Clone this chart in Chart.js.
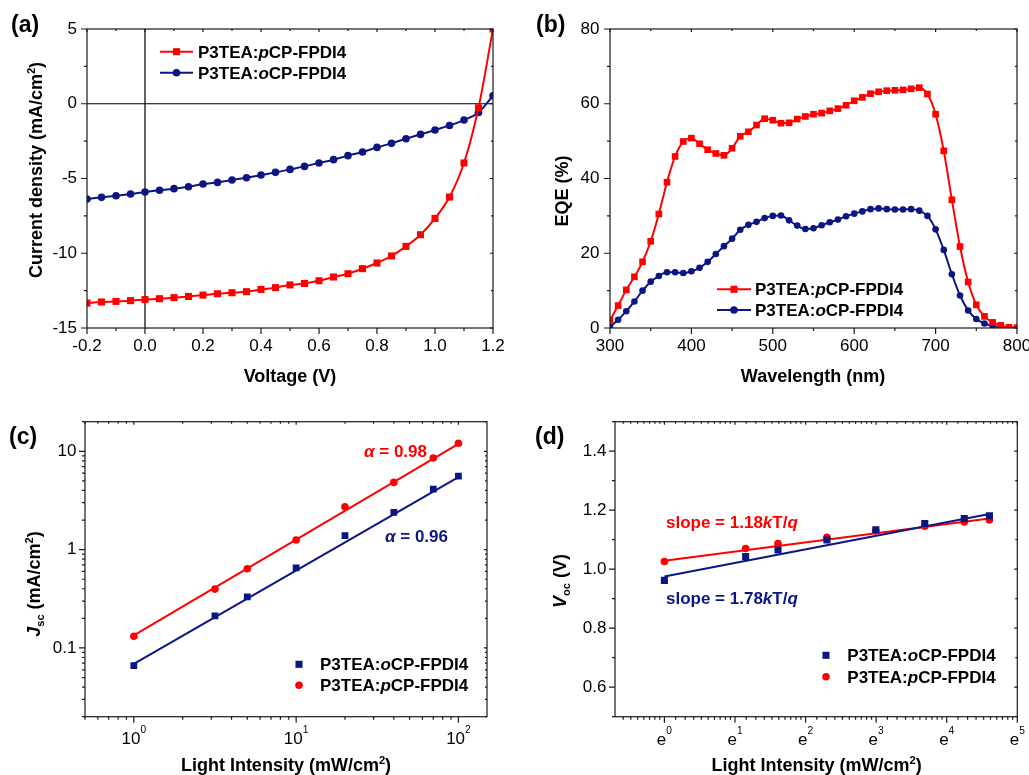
<!DOCTYPE html>
<html>
<head>
<meta charset="utf-8">
<script src="https://cdn.jsdelivr.net/npm/chart.js@4.4.1/dist/chart.umd.min.js"></script>
<style>
  body { margin: 0; background: #fff; width: 1029px; height: 775px; position: relative; overflow: hidden; }
  canvas { position: absolute; }
</style>
</head>
<body>
<canvas id="pa" width="510" height="390" style="left:0;top:0"></canvas>
<canvas id="pb" width="519" height="390" style="left:510px;top:0"></canvas>
<canvas id="pc" width="510" height="385" style="left:0;top:390px"></canvas>
<canvas id="pd" width="519" height="385" style="left:510px;top:390px"></canvas>
<script>
// (a) J-V curves
const ivVoltage = [-0.2, -0.15, -0.1, -0.05, 0, 0.05, 0.1, 0.15, 0.2, 0.25, 0.3, 0.35, 0.4, 0.45, 0.5, 0.55, 0.6, 0.65, 0.7, 0.75, 0.8, 0.85, 0.9, 0.95, 1.0, 1.05, 1.1, 1.15, 1.2];
const ivJpCP = [-13.33, -13.26, -13.22, -13.17, -13.10, -13.04, -12.97, -12.89, -12.80, -12.71, -12.64, -12.57, -12.42, -12.30, -12.12, -12.02, -11.84, -11.59, -11.37, -11.03, -10.65, -10.18, -9.54, -8.76, -7.67, -6.24, -3.96, -0.27, 5.0];
const ivJoCP = [-6.37, -6.26, -6.15, -6.04, -5.90, -5.79, -5.68, -5.55, -5.37, -5.26, -5.10, -4.95, -4.77, -4.59, -4.39, -4.19, -3.96, -3.74, -3.47, -3.23, -2.92, -2.65, -2.34, -2.05, -1.76, -1.45, -1.09, -0.58, 0.54];
const ivXTicks = [-0.2, 0, 0.2, 0.4, 0.6, 0.8, 1.0, 1.2];
const ivYTicks = [-15, -10, -5, 0, 5];

// (b) EQE spectra
const wavelength = [300, 310, 320, 330, 340, 350, 360, 370, 380, 390, 400, 410, 420, 430, 440, 450, 460, 470, 480, 490, 500, 510, 520, 530, 540, 550, 560, 570, 580, 590, 600, 610, 620, 630, 640, 650, 660, 670, 680, 690, 700, 710, 720, 730, 740, 750, 760, 770, 780, 790, 800];
const eqePCP = [2.05, 6.0, 10.2, 13.7, 17.7, 23.2, 30.5, 39.0, 45.9, 49.9,
  50.8, 49.3, 47.7, 46.7, 46.2, 48.1, 51.3, 52.5, 54.3, 56.0,
  55.6, 54.8, 54.9, 55.9, 56.6, 57.2, 57.5, 58.1, 58.7, 59.6,
  60.8, 61.7, 62.7, 63.2, 63.5, 63.6, 63.7, 64.0, 64.3, 62.6,
  57.2, 47.4, 34.3, 21.8, 12.3, 6.2, 3.1, 1.5, 0.7, 0.2, 0.1];
const eqeOCP = [0.3, 2.2, 4.5, 7.1, 10.0, 12.4, 13.9, 14.9, 14.9, 14.7,
  15.2, 16.1, 17.7, 19.8, 21.9, 23.9, 26.3, 27.6, 28.4, 29.4,
  30.0, 30.1, 28.8, 27.4, 26.5, 26.7, 27.5, 28.3, 29.0, 29.9,
  30.6, 31.2, 31.8, 32.0, 31.8, 31.7, 31.7, 31.8, 31.4, 30.0,
  26.4, 20.9, 14.4, 8.7, 4.7, 2.4, 1.2, 0.6, 0.2, 0.1, 0.0];
const eqeXTicks = [300, 400, 500, 600, 700, 800];
const eqeYTicks = [0, 20, 40, 60, 80];

// (c) Jsc vs light intensity, (d) Voc vs light intensity
const intensity = [1, 3.16, 5, 10, 20, 40, 70, 100];
const jscPCP = [0.1315, 0.397, 0.64, 1.254, 2.72, 4.83, 8.55, 12.07];
const jscOCP = [0.066, 0.212, 0.331, 0.654, 1.39, 2.39, 4.13, 5.6];
const fitX = [1, 100];
const jscFitPCP = [0.134, 11.9];
const jscFitOCP = [0.069, 5.47];
const jscXTicks = [1, 10, 100];
const jscXExp = ['0', '1', '2'];
const jscYTicks = [0.1, 1, 10];
const jscYLabels = ['0.1', '1', '10'];

const vocOCP = [0.962, 1.043, 1.065, 1.099, 1.134, 1.155, 1.172, 1.181];
const vocPCP = [1.026, 1.070, 1.087, 1.108, 1.130, 1.146, 1.160, 1.167];
const vocFitOCP = [0.975, 1.187];
const vocFitPCP = [1.029, 1.172];
const vocXExp = [0, 1, 2, 3, 4, 5];
const vocYTicks = [0.6, 0.8, 1.0, 1.2, 1.4];

const FAM = '"Liberation Sans", Arial, Helvetica, sans-serif';
const RED = '#ff0000';
const NAVY = '#0b1583';
const TICK_FONT = { family: FAM, size: 17 };

const pText = [['P3TEA:', ''], ['p', 'i'], ['CP-FPDI4', '']];
const oText = [['P3TEA:', ''], ['o', 'i'], ['CP-FPDI4', '']];

function pts(xs, ys) { return xs.map((x, i) => ({ x: x, y: ys[i] })); }

function linMinor(min, max, step) {
  const out = [];
  for (let v = min; v <= max + 1e-9; v += step) out.push(+v.toFixed(6));
  return out;
}
function logMinor(min, max) {
  const out = [];
  for (let e = -3; e <= 3; e++)
    for (let m = 1; m < 10; m++) {
      const v = m * Math.pow(10, e);
      if (v >= min * 0.999 && v <= max * 1.001) out.push(v);
    }
  return out;
}
function lnMinor(min, max) {
  const out = [];
  for (let n = -2; n <= 5; n++) {
    const a = Math.exp(n), b = Math.exp(n + 1);
    for (let k = 0; k < 10; k++) {
      const v = a + k * (b - a) / 10;
      if (v >= min && v <= max) out.push(v);
    }
  }
  return out;
}

// text made of runs: ['text', kind] with kind '' | 'i' | 'sup' | 'sub'
function drawRich(ctx, parts, x, y, size, opt) {
  opt = opt || {};
  const sup = opt.sup || { scale: 0.62, raise: 0.42 };
  let w = 0;
  const items = parts.map(([t, k]) => {
    const small = k === 'sup' || k === 'sub';
    const s = small ? size * sup.scale : size;
    const f = (k === 'i' ? 'italic ' : '') + (opt.bold ? 'bold ' : '') + s + 'px ' + FAM;
    ctx.font = f;
    const wid = ctx.measureText(t).width;
    const dy = k === 'sup' ? -size * sup.raise : (k === 'sub' ? size * 0.22 : 0);
    w += wid;
    return { t, f, wid, dy };
  });
  let cx = opt.align === 'center' ? x - w / 2 : x;
  ctx.fillStyle = opt.color || '#000';
  ctx.textAlign = 'left';
  ctx.textBaseline = 'alphabetic';
  items.forEach(it => { ctx.font = it.f; ctx.fillText(it.t, cx, y + it.dy); cx += it.wid; });
}

function drawRot(ctx, parts, cx, cy, size) {
  ctx.save();
  ctx.translate(cx, cy);
  ctx.rotate(-Math.PI / 2);
  drawRich(ctx, parts, 0, 0.3 * size, size, { bold: true, align: 'center' });
  ctx.restore();
}

function decor(cfg) {
  return {
    id: 'decor',
    beforeDatasetsDraw(chart) {
      if (!cfg.zero) return;
      const { ctx, chartArea: a, scales: { x, y } } = chart;
      const px = x.getPixelForValue(0), py = y.getPixelForValue(0);
      ctx.save();
      ctx.strokeStyle = '#000';
      ctx.lineWidth = 1.2;
      ctx.beginPath();
      ctx.moveTo(a.left, py); ctx.lineTo(a.right, py);
      ctx.moveTo(px, a.top); ctx.lineTo(px, a.bottom);
      ctx.stroke();
      ctx.restore();
    },
    afterDraw(chart) {
      const { ctx, chartArea: a, scales: { x, y } } = chart;
      ctx.save();
      ctx.strokeStyle = '#1a1a1a';
      ctx.lineWidth = 1.2;
      ctx.beginPath();
      const xt = (v, out, inn) => {
        const p = x.getPixelForValue(v);
        ctx.moveTo(p, a.bottom); ctx.lineTo(p, a.bottom + out);
        ctx.moveTo(p, a.top); ctx.lineTo(p, a.top + inn);
      };
      const yt = (v, out, inn) => {
        const p = y.getPixelForValue(v);
        ctx.moveTo(a.left - out, p); ctx.lineTo(a.left, p);
        ctx.moveTo(a.right, p); ctx.lineTo(a.right - inn, p);
      };
      cfg.xMinor.forEach(v => xt(v, 3, 2));
      cfg.xMajor.forEach(v => xt(v, 6, 3));
      cfg.yMinor.forEach(v => yt(v, 3, 2));
      cfg.yMajor.forEach(v => yt(v, 6, 3));
      ctx.stroke();
      ctx.strokeRect(a.left, a.top, a.right - a.left, a.bottom - a.top);

      // power-style tick labels (10^n, e^n)
      if (cfg.pow) {
        cfg.xMajor.forEach((v, i) => {
          drawRich(ctx, [[cfg.pow.base, ''], [cfg.pow.exps[i], 'sup']], x.getPixelForValue(v), cfg.pow.baseline, 17,
            { align: 'center', sup: { scale: 0.6, raise: 0.63 } });
        });
      }

      // axis titles
      drawRich(ctx, cfg.xTitle.parts, cfg.xTitle.x, cfg.xTitle.y + 0.3 * 18, 18, { bold: true, align: 'center' });
      drawRot(ctx, cfg.yTitle.parts, cfg.yTitle.x, cfg.yTitle.y, 18);

      // panel tag
      drawRich(ctx, [[cfg.tag.text, '']], cfg.tag.x, cfg.tag.y + 0.27 * 23, 23, { bold: true });

      // legend
      cfg.legend.forEach(it => {
        if (it.line) {
          ctx.strokeStyle = it.color;
          ctx.lineWidth = 2;
          ctx.beginPath();
          ctx.moveTo(it.line[0], it.y); ctx.lineTo(it.line[1], it.y);
          ctx.stroke();
        }
        ctx.fillStyle = it.color;
        Chart.helpers.drawPoint(ctx, { pointStyle: it.style, radius: it.r, rotation: 0, borderWidth: 0 }, it.mx, it.y);
        drawRich(ctx, it.text, it.tx, it.y + 0.358 * 17, 17, { bold: true });
      });

      // notes
      (cfg.notes || []).forEach(n => {
        drawRich(ctx, n.parts, n.x, n.y + 0.358 * 17, 17, { bold: true, color: n.color });
      });
      ctx.restore();
    }
  };
}

function axis(type, min, max, ticks, size, isX, fmt, labelPad) {
  return {
    type: type,
    min: min,
    max: max,
    position: isX ? 'bottom' : 'left',
    grid: { display: false, drawTicks: false },
    border: { display: false },
    afterBuildTicks(s) { s.ticks = ticks.map(v => ({ value: v })); },
    afterFit(s) {
      if (isX) { s.height = size; s.paddingLeft = 0; s.paddingRight = 0; }
      else { s.width = size; s.paddingTop = 0; s.paddingBottom = 0; }
    },
    ticks: {
      display: !!fmt,
      font: TICK_FONT,
      color: '#000',
      padding: labelPad,
      autoSkip: false,
      maxRotation: 0,
      callback: fmt ? (v, i) => fmt(v, i) : () => ''
    }
  };
}

function baseOptions(padding, scales, cfg) {
  return {
    responsive: false,
    animation: false,
    events: [],
    layout: { padding: padding },
    plugins: { legend: { display: false }, tooltip: { enabled: false } },
    scales: scales
  };
}

// ---- (a)
new Chart(document.getElementById('pa'), {
  type: 'line',
  data: {
    datasets: [
      { data: pts(ivVoltage, ivJpCP), borderColor: RED, backgroundColor: RED, borderWidth: 2,
        pointStyle: 'rect', pointRadius: 5, pointBorderWidth: 0, cubicInterpolationMode: 'monotone' },
      { data: pts(ivVoltage, ivJoCP), borderColor: NAVY, backgroundColor: NAVY, borderWidth: 2,
        pointStyle: 'circle', pointRadius: 3.8, pointBorderWidth: 0, cubicInterpolationMode: 'monotone' }
    ]
  },
  options: baseOptions({ left: 0, right: 17, top: 29, bottom: 0 }, {
    x: axis('linear', -0.2, 1.2, ivXTicks, 62, true, v => v.toFixed(1), 8.5),
    y: axis('linear', -15, 5, ivYTicks, 87, false, v => String(v), 10)
  }),
  plugins: [decor({
    zero: true,
    xMajor: ivXTicks, xMinor: linMinor(-0.2, 1.2, 0.1),
    yMajor: ivYTicks, yMinor: linMinor(-15, 5, 2.5),
    xTitle: { parts: [['Voltage (V)', '']], x: 290, y: 377 },
    yTitle: { parts: [['Current density (mA/cm', ''], ['2', 'sup'], [')', '']], x: 37, y: 170 },
    tag: { text: '(a)', x: 11, y: 26 },
    legend: [
      { color: RED, style: 'rect', r: 5, line: [160, 193], mx: 176.5, y: 51.7, tx: 198, text: pText },
      { color: NAVY, style: 'circle', r: 3.8, line: [160, 193], mx: 176.5, y: 72.7, tx: 198, text: oText }
    ]
  })]
});

// ---- (b)
new Chart(document.getElementById('pb'), {
  type: 'line',
  data: {
    datasets: [
      { data: pts(wavelength, eqePCP), borderColor: RED, backgroundColor: RED, borderWidth: 2,
        pointStyle: 'rect', pointRadius: 4.7, pointBorderWidth: 0, cubicInterpolationMode: 'monotone' },
      { data: pts(wavelength, eqeOCP), borderColor: NAVY, backgroundColor: NAVY, borderWidth: 2,
        pointStyle: 'circle', pointRadius: 3.3, pointBorderWidth: 0, cubicInterpolationMode: 'monotone' }
    ]
  },
  options: baseOptions({ left: 0, right: 12, top: 29, bottom: 0 }, {
    x: axis('linear', 300, 800, eqeXTicks, 62, true, v => String(v), 8.5),
    y: axis('linear', 0, 80, eqeYTicks, 100, false, v => String(v), 10.5)
  }),
  plugins: [decor({
    xMajor: eqeXTicks, xMinor: linMinor(300, 800, 50),
    yMajor: eqeYTicks, yMinor: linMinor(0, 80, 10),
    xTitle: { parts: [['Wavelength (nm)', '']], x: 303, y: 377 },
    yTitle: { parts: [['EQE (%)', '']], x: 53, y: 191 },
    tag: { text: '(b)', x: 26, y: 26 },
    legend: [
      { color: RED, style: 'rect', r: 5, line: [207, 241], mx: 224, y: 289.3, tx: 245, text: pText },
      { color: NAVY, style: 'circle', r: 3.8, line: [207, 241], mx: 224, y: 310, tx: 245, text: oText }
    ]
  })]
});

// ---- (c)
new Chart(document.getElementById('pc'), {
  type: 'line',
  data: {
    datasets: [
      { data: pts(intensity, jscOCP), showLine: false, backgroundColor: NAVY, borderColor: NAVY,
        pointStyle: 'rect', pointRadius: 4.8, pointBorderWidth: 0 },
      { data: pts(intensity, jscPCP), showLine: false, backgroundColor: RED, borderColor: RED,
        pointStyle: 'circle', pointRadius: 3.8, pointBorderWidth: 0 },
      { data: pts(fitX, jscFitOCP), borderColor: NAVY, borderWidth: 2, pointRadius: 0 },
      { data: pts(fitX, jscFitPCP), borderColor: RED, borderWidth: 2, pointRadius: 0 }
    ]
  },
  options: baseOptions({ left: 0, right: 23, top: 31.7, bottom: 0 }, {
    x: axis('logarithmic', 0.5, 150, jscXTicks, 58.3, true, null, 8),
    y: axis('logarithmic', 0.02, 20, jscYTicks, 85, false, (v, i) => jscYLabels[i], 8.5)
  }),
  plugins: [decor({
    xMajor: jscXTicks, xMinor: logMinor(0.5, 150),
    yMajor: jscYTicks, yMinor: logMinor(0.02, 20),
    pow: { base: '10', exps: jscXExp, baseline: 354 },
    xTitle: { parts: [['Light Intensity (mW/cm', ''], ['2', 'sup'], [')', '']], x: 286, y: 376 },
    yTitle: { parts: [['J', 'i'], ['sc', 'sub'], [' (mA/cm', ''], ['2', 'sup'], [')', '']], x: 35, y: 194 },
    tag: { text: '(c)', x: 9, y: 47.5 },
    legend: [
      { color: NAVY, style: 'rect', r: 5, mx: 299, y: 274.3, tx: 320, text: oText },
      { color: RED, style: 'circle', r: 3.8, mx: 299, y: 295.3, tx: 320, text: pText }
    ],
    notes: [
      { parts: [['\u03b1', 'i'], [' = 0.98', '']], x: 364, y: 61, color: RED },
      { parts: [['\u03b1', 'i'], [' = 0.96', '']], x: 385, y: 146, color: NAVY }
    ]
  })]
});

// ---- (d)
const vocXTicks = vocXExp.map(n => Math.exp(n));
new Chart(document.getElementById('pd'), {
  type: 'line',
  data: {
    datasets: [
      { data: pts(intensity, vocOCP), showLine: false, backgroundColor: NAVY, borderColor: NAVY,
        pointStyle: 'rect', pointRadius: 5, pointBorderWidth: 0 },
      { data: pts(intensity, vocPCP), showLine: false, backgroundColor: RED, borderColor: RED,
        pointStyle: 'circle', pointRadius: 3.8, pointBorderWidth: 0 },
      { data: pts(fitX, vocFitOCP), borderColor: NAVY, borderWidth: 2, pointRadius: 0 },
      { data: pts(fitX, vocFitPCP), borderColor: RED, borderWidth: 2, pointRadius: 0 }
    ]
  },
  options: baseOptions({ left: 0, right: 11.7, top: 31.7, bottom: 0 }, {
    x: axis('logarithmic', Math.exp(-0.7), Math.exp(5), vocXTicks, 58.3, true, null, 8),
    y: axis('linear', 0.5, 1.5, vocYTicks, 105, false, v => v.toFixed(1), 8.5)
  }),
  plugins: [decor({
    xMajor: vocXTicks, xMinor: lnMinor(Math.exp(-0.7), Math.exp(5)),
    yMajor: vocYTicks, yMinor: linMinor(0.5, 1.5, 0.1),
    pow: { base: 'e', exps: vocXExp.map(String), baseline: 355 },
    xTitle: { parts: [['Light Intensity (mW/cm', ''], ['2', 'sup'], [')', '']], x: 306.7, y: 376 },
    yTitle: { parts: [['V', 'i'], ['oc', 'sub'], [' (V)', '']], x: 51, y: 191 },
    tag: { text: '(d)', x: 25, y: 47.5 },
    legend: [
      { color: NAVY, style: 'rect', r: 5, mx: 316, y: 265.3, tx: 337.3, text: oText },
      { color: RED, style: 'circle', r: 3.8, mx: 316, y: 286.7, tx: 337.3, text: pText }
    ],
    notes: [
      { parts: [['slope = 1.18', ''], ['k', 'i'], ['T/', ''], ['q', 'i']], x: 156, y: 131.7, color: RED },
      { parts: [['slope = 1.78', ''], ['k', 'i'], ['T/', ''], ['q', 'i']], x: 156, y: 208.3, color: NAVY }
    ]
  })]
});
</script>
</body>
</html>
